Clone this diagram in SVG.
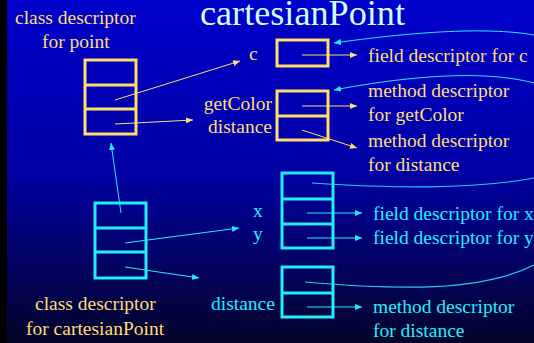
<svg xmlns="http://www.w3.org/2000/svg" width="534" height="343" viewBox="0 0 534 343">
  <defs>
    <linearGradient id="bg" x1="0" y1="0" x2="0" y2="1">
      <stop offset="0" stop-color="#0000cc"/>
      <stop offset="0.5" stop-color="#0000a4"/>
      <stop offset="1" stop-color="#04042a"/>
    </linearGradient>
    <marker id="ay" markerUnits="userSpaceOnUse" markerWidth="8" markerHeight="6" refX="7" refY="3" orient="auto">
      <path d="M0,0 L7,3 L0,6 Z" fill="#ffdd77"/>
    </marker>
    <marker id="ac" markerUnits="userSpaceOnUse" markerWidth="8" markerHeight="6" refX="7" refY="3" orient="auto">
      <path d="M0,0 L7,3 L0,6 Z" fill="#22eeff"/>
    </marker>
    <style>
      text { font-family: "Liberation Serif", "Times New Roman", serif; font-size: 19.5px; }
      .y { fill: #ffdd77; }
      .c { fill: #22eeff; }
      .title { fill: #ccffff; font-size: 35px; }
      .by { fill: none; stroke: #ffdd66; stroke-width: 3; }
      .bc { fill: none; stroke: #22eeff; stroke-width: 3; }
      .ly { fill: none; stroke: #ffdd77; stroke-width: 1; marker-end: url(#ay); }
      .lc { fill: none; stroke: #22eeff; stroke-width: 1; marker-end: url(#ac); }
      .lcn { fill: none; stroke: #22ccee; stroke-width: 1.2; }
    </style>
  </defs>

  <rect x="0" y="0" width="534" height="343" fill="url(#bg)"/>
  <rect x="0" y="0" width="7" height="343" fill="#000000"/>

  <text class="title" x="200" y="25" textLength="205" lengthAdjust="spacingAndGlyphs">cartesianPoint</text>

  <!-- class descriptor for point -->
  <g id="point-class">
    <text class="y" x="15" y="24">class descriptor</text>
    <text class="y" x="42" y="48">for point</text>
    <rect class="by" x="85" y="60" width="51" height="74"/>
    <line class="by" x1="85" y1="85" x2="136" y2="85"/>
    <line class="by" x1="85" y1="109" x2="136" y2="109"/>
  </g>

  <!-- point field table -->
  <g id="point-fields">
    <text class="y" x="249" y="60">c</text>
    <rect class="by" x="277" y="40" width="51" height="26"/>
  </g>

  <!-- point method table -->
  <g id="point-methods">
    <text class="y" x="272" y="110" text-anchor="end">getColor</text>
    <text class="y" x="272" y="133" text-anchor="end">distance</text>
    <rect class="by" x="277" y="91" width="51" height="49"/>
    <line class="by" x1="277" y1="116" x2="328" y2="116"/>
  </g>

  <g id="field-c">
    <text class="y" x="368" y="62">field descriptor for c</text>
  </g>
  <g id="method-getColor">
    <text class="y" x="368" y="97">method descriptor</text>
    <text class="y" x="368" y="121">for getColor</text>
  </g>
  <g id="method-distance-point">
    <text class="y" x="368" y="147">method descriptor</text>
    <text class="y" x="368" y="171">for distance</text>
  </g>

  <!-- class descriptor for cartesianPoint -->
  <g id="cartesian-class">
    <rect class="bc" x="95" y="203" width="51" height="75"/>
    <line class="bc" x1="95" y1="228" x2="146" y2="228"/>
    <line class="bc" x1="95" y1="252" x2="146" y2="252"/>
    <text class="y" x="35" y="310">class descriptor</text>
    <text class="y" x="26" y="335">for cartesianPoint</text>
  </g>

  <!-- cartesianPoint field table -->
  <g id="cartesian-fields">
    <text class="c" x="253" y="217">x</text>
    <text class="c" x="253" y="240">y</text>
    <rect class="bc" x="282" y="173" width="51" height="75"/>
    <line class="bc" x1="282" y1="199" x2="333" y2="199"/>
    <line class="bc" x1="282" y1="224" x2="333" y2="224"/>
  </g>

  <!-- cartesianPoint method table -->
  <g id="cartesian-methods">
    <text class="c" x="211" y="310">distance</text>
    <rect class="bc" x="282" y="267" width="51" height="50"/>
    <line class="bc" x1="282" y1="293" x2="333" y2="293"/>
  </g>

  <g id="field-x">
    <text class="c" x="373" y="220">field descriptor for x</text>
  </g>
  <g id="field-y">
    <text class="c" x="373" y="244">field descriptor for y</text>
  </g>
  <g id="method-distance-cartesian">
    <text class="c" x="373" y="313">method descriptor</text>
    <text class="c" x="373" y="337">for distance</text>
  </g>

  <!-- connectors -->
  <g id="connectors">
    <line class="ly" x1="115" y1="100" x2="240" y2="61"/>
    <line class="ly" x1="115" y1="124" x2="193" y2="120"/>
    <line class="ly" x1="302" y1="55" x2="357" y2="55"/>
    <line class="ly" x1="302" y1="106" x2="357" y2="106"/>
    <line class="ly" x1="302" y1="130" x2="357" y2="148"/>

    <line class="lc" x1="121" y1="213" x2="111" y2="143"/>
    <line class="lc" x1="125" y1="243" x2="239" y2="228"/>
    <line class="lc" x1="125" y1="267" x2="199" y2="278"/>
    <line class="lc" x1="307" y1="213" x2="362" y2="213"/>
    <line class="lc" x1="307" y1="238" x2="362" y2="238"/>
    <line class="lc" x1="307" y1="307" x2="362" y2="307"/>

    <!-- inherited slots run off the right edge and come back to the parent tables -->
    <path class="lcn" d="M312,183 C390,188 470,190 534,178"/>
    <path class="lc" d="M534,35 C500,29 440,28 334,43"/>
    <path class="lcn" d="M305,282 C400,290 480,292 534,265"/>
    <path class="lc" d="M534,83 C500,74 440,70 334,90"/>
  </g>
</svg>
